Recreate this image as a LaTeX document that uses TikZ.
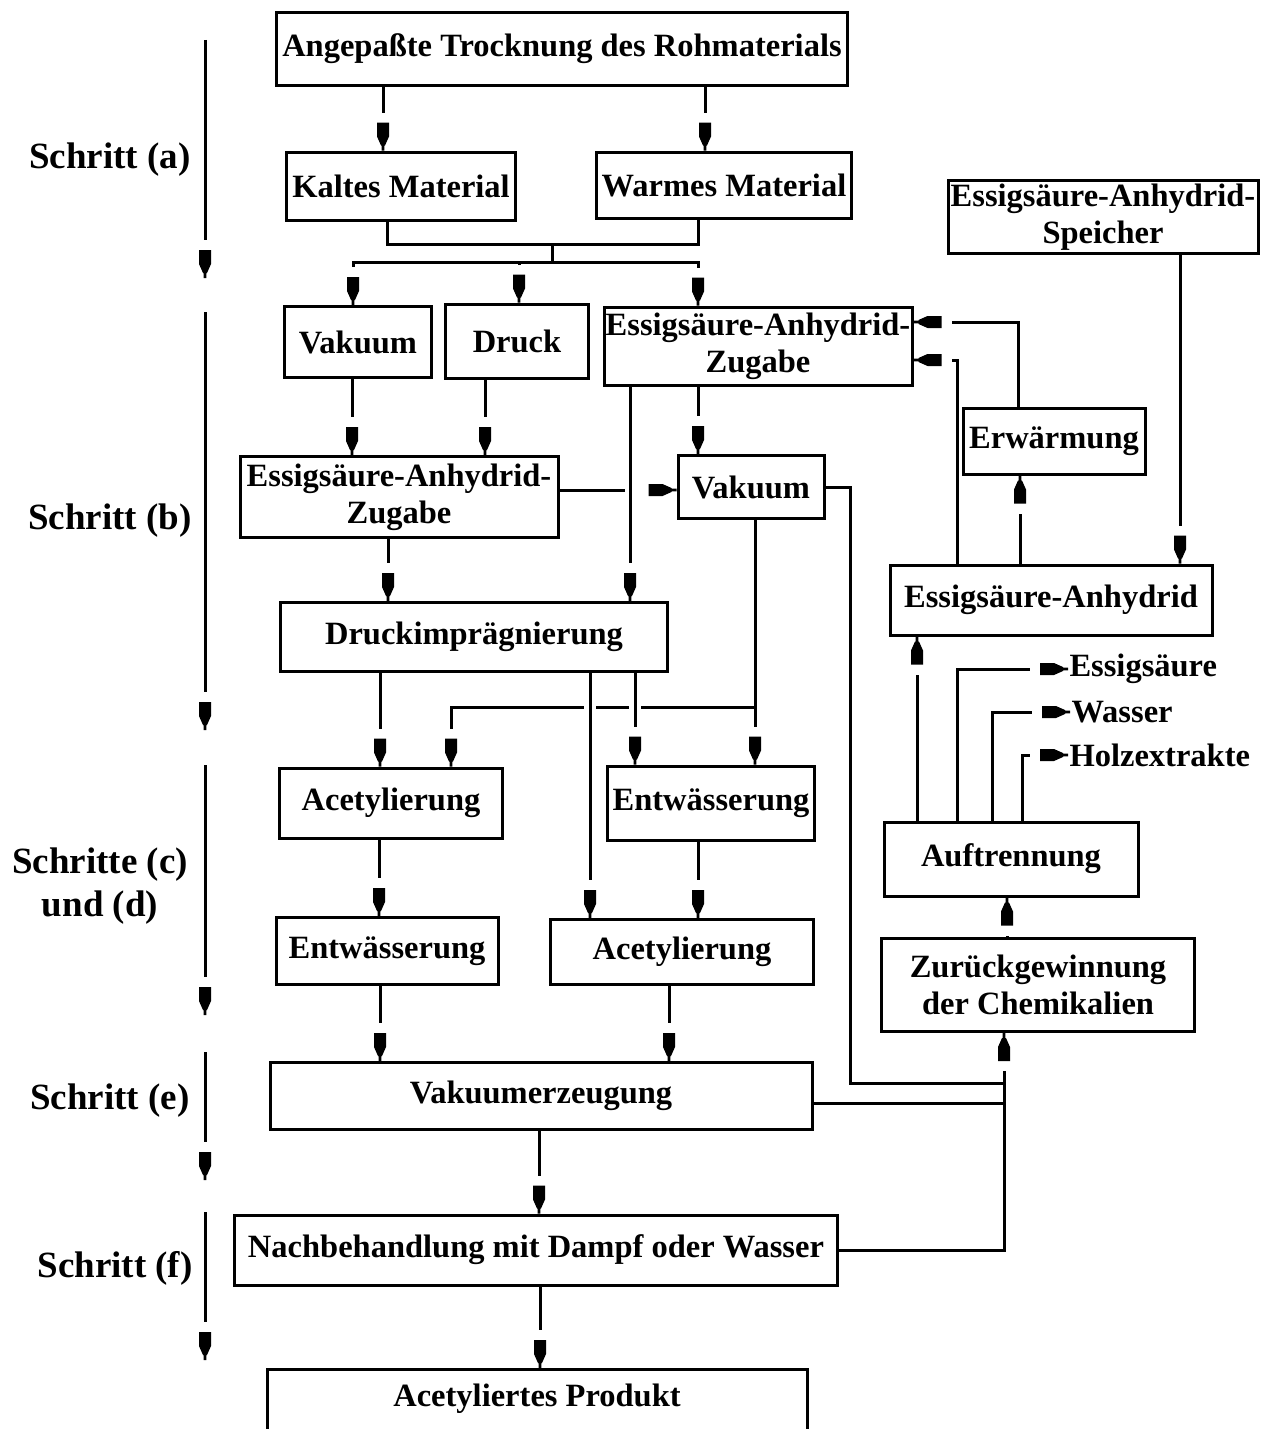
\documentclass[tikz,border=0pt]{standalone}
\usepackage{fontspec}
\setmainfont{Liberation Serif}
\usetikzlibrary{arrows.meta}

\pgfdeclarearrow{
  name=Pen,
  setup code={
    \pgfarrowssettipend{0pt}
    \pgfarrowssetbackend{-28pt}
    \pgfarrowssetlineend{-38pt}
  },
  drawing code={
    \pgfpathmoveto{\pgfpoint{-28pt}{6pt}}
    \pgfpathlineto{\pgfpoint{-14pt}{6pt}}
    \pgfpathlineto{\pgfpoint{-5pt}{2pt}}
    \pgfpathlineto{\pgfpoint{-5pt}{1.3pt}}
    \pgfpathlineto{\pgfpoint{0pt}{1.3pt}}
    \pgfpathlineto{\pgfpoint{0pt}{-1.3pt}}
    \pgfpathlineto{\pgfpoint{-5pt}{-1.3pt}}
    \pgfpathlineto{\pgfpoint{-5pt}{-2pt}}
    \pgfpathlineto{\pgfpoint{-14pt}{-6pt}}
    \pgfpathlineto{\pgfpoint{-28pt}{-6pt}}
    \pgfpathclose
    \pgfusepathqfill
  }
}
\pgfdeclarearrow{
  name=Pen long,
  setup code={
    \pgfarrowssettipend{0pt}
    \pgfarrowssetbackend{-28pt}
    \pgfarrowssetlineend{-52pt}
  },
  drawing code={
    \pgfpathmoveto{\pgfpoint{-28pt}{6pt}}
    \pgfpathlineto{\pgfpoint{-14pt}{6pt}}
    \pgfpathlineto{\pgfpoint{-5pt}{2pt}}
    \pgfpathlineto{\pgfpoint{-5pt}{1.3pt}}
    \pgfpathlineto{\pgfpoint{0pt}{1.3pt}}
    \pgfpathlineto{\pgfpoint{0pt}{-1.3pt}}
    \pgfpathlineto{\pgfpoint{-5pt}{-1.3pt}}
    \pgfpathlineto{\pgfpoint{-5pt}{-2pt}}
    \pgfpathlineto{\pgfpoint{-14pt}{-6pt}}
    \pgfpathlineto{\pgfpoint{-28pt}{-6pt}}
    \pgfpathclose
    \pgfusepathqfill
  }
}

\begin{document}
\begin{tikzpicture}[x=1pt,y=-1pt,line width=3pt,>=Pen,
    long gap/.style={-{Pen long}},
    main node/.style={draw,line width=3pt,inner sep=0pt,align=center,font=\fontsize{32.5}{37}\selectfont\bfseries},
    step node/.style={align=center,font=\fontsize{37}{43}\selectfont\bfseries},
    out node/.style={anchor=west,inner sep=0pt,font=\fontsize{32.5}{37}\selectfont\bfseries},
    hop/.style={preaction={draw,-,white,line width=12pt,shorten <=12pt,shorten >=40pt}}]

    \useasboundingbox (0,0) rectangle (1277,1429);

    \node[main node,minimum width=571,minimum height=73] (1) at (562,49) {Angepaßte Trocknung des Rohmaterials};
    \node[main node,minimum width=229,minimum height=68] (2) at (401,186) {Kaltes Material};
    \node[main node,minimum width=255,minimum height=66] (3) at (724,185) {Warmes Material};
    \node[main node,minimum width=147,minimum height=71] (4) at (358,342) {Vakuum};
    \node[main node,minimum width=143,minimum height=74] (5) at (517,341) {Druck};
    \node[main node,minimum width=308,minimum height=78] (6) at (758,346) {Essigsäure-Anhydrid-\\Zugabe};
    \node[main node,minimum width=318,minimum height=81] (7) at (399,497) {Essigsäure-Anhydrid-\\Zugabe};
    \node[main node,minimum width=146,minimum height=63] (8) at (751,487) {Vakuum};
    \node[main node,minimum width=182,minimum height=66] (9) at (1054,441) {Erwärmung};
    \node[main node,minimum width=310,minimum height=73] (10) at (1103,217) {Essigsäure-Anhydrid-\\Speicher};
    \node[main node,minimum width=322,minimum height=70] (11) at (1051,600) {Essigsäure-Anhydrid};
    \node[main node,minimum width=387,minimum height=69] (12) at (474,637) {Druckimprägnierung};
    \node[main node,minimum width=223,minimum height=70] (13) at (391,803) {Acetylierung};
    \node[main node,minimum width=207,minimum height=74] (14) at (711,803) {Entwässerung};
    \node[main node,minimum width=222,minimum height=67] (15) at (387,951) {Entwässerung};
    \node[main node,minimum width=263,minimum height=65] (16) at (682,952) {Acetylierung};
    \node[main node,minimum width=542,minimum height=67] (17) at (541,1096) {Vakuumerzeugung};
    \node[main node,minimum width=603,minimum height=70] (18) at (536,1250) {Nachbehandlung mit Dampf oder Wasser};
    \node[main node,minimum width=540,minimum height=80,anchor=north] (19) at (537,1368) {};
    \node[font=\fontsize{32.5}{37}\selectfont\bfseries] (19t) at (537,1399) {Acetyliertes Produkt};
    \node[main node,minimum width=254,minimum height=74] (20) at (1011,859) {Auftrennung};
    \node[main node,minimum width=313,minimum height=93] (21) at (1038,985) {Zurückgewinnung\\der Chemikalien};
    \node[out node] (22) at (1068,669) {Essigsäure};
    \node[out node] (23) at (1070,712) {Wasser};
    \node[out node] (24) at (1068,755) {Holzextrakte};

    \node[step node] (s1) at (110,160) {Schritt (a)};
    \node[step node] (s2) at (110,521) {Schritt (b)};
    \node[step node] (s3) at (100,886) {Schritte (c)\\und (d)};
    \node[step node] (s4) at (110,1101) {Schritt (e)};
    \node[step node] (s5) at (115,1268) {Schritt (f)};

    \coordinate (a1) at (205,40);   \coordinate (a2) at (205,278);
    \coordinate (b1) at (205,312);  \coordinate (b2) at (205,730);
    \coordinate (c1) at (205,765);  \coordinate (c2) at (205,1015);
    \coordinate (d1) at (205,1052); \coordinate (d2) at (205,1180);
    \coordinate (e1) at (205,1212); \coordinate (e2) at (205,1360);
    \coordinate (j1) at (552,244);  \coordinate (j2) at (552,262);
    \coordinate (j3) at (1004,1083); \coordinate (j4) at (1004,1103);
    \coordinate (j5) at (755,707);

    \draw[->] (a1) -- (a2);
    \draw[->] (b1) -- (b2);
    \draw[->] (c1) -- (c2);
    \draw[->] (d1) -- (d2);
    \draw[->] (e1) -- (e2);

    \draw[->] (1.south -| 383,0) -- (2.north -| 383,0);
    \draw[->] (1.south -| 705,0) -- (3.north -| 705,0);
    \draw (2.south -| 387,0) |- (j1) -| (3.south -| 698,0);
    \draw (j1) -- (j2);
    \draw[->] (j2) -| (4.north -| 353,0);
    \draw[->] (j2 -| 519,0) -- (5.north -| 519,0);
    \draw[->] (j2) -| (6.north -| 698,0);
    \draw[->] (4.south -| 352,0) -- (7.north -| 352,0);
    \draw[->] (5.south -| 485,0) -- (7.north -| 485,0);
    \draw[long gap] (7.east |- 0,490) -- (8.west |- 0,490);
    \draw[->] (6.south -| 698,0) -- (8.north -| 698,0);
    \draw[->] (6.south -| 630,0) -- (12.north -| 630,0);
    \draw[->] (7.south -| 388,0) -- (12.north -| 388,0);
    \draw (8.east) -| (j3 -| 850,0) -- (j3);
    \draw (17.east |- j4) -- (j4);
    \draw[->] (18.east) -| (21.south -| 1004,0);
    \draw[->] (21.north -| 1007,0) -- (20.south -| 1007,0);
    \draw[->] (20.north -| 917,0) -- (11.south -| 917,0);
    \draw[->] (20.north -| 957,0) |- (22.west);
    \draw[->] (20.north -| 992,0) |- (23.west);
    \draw[->] (20.north -| 1022,0) |- (24.west);
    \draw[->] (11.north -| 1020,0) -- (9.south -| 1020,0);
    \draw[->] (9.north -| 1018,0) |- (6.east |- 0,322);
    \draw[->] (11.north -| 957,0) |- (6.east |- 0,360);
    \draw[->] (10.south -| 1180,0) -- (11.north -| 1180,0);
    \draw[->] (12.south -| 380,0) -- (13.north -| 380,0);
    \draw[->] (8.south -| j5) -- (j5) -| (13.north -| 451,0);
    \draw[->] (j5) -- (14.north -| j5);
    \draw[->,hop] (12.south -| 590,0) -- (16.north -| 590,0);
    \draw[->,hop] (12.south -| 635,0) -- (14.north -| 635,0);
    \draw[->] (13.south -| 379,0) -- (15.north -| 379,0);
    \draw[->] (14.south -| 698,0) -- (16.north -| 698,0);
    \draw[->] (15.south -| 380,0) -- (17.north -| 380,0);
    \draw[->] (16.south -| 669,0) -- (17.north -| 669,0);
    \draw[->] (17.south -| 539,0) -- (18.north -| 539,0);
    \draw[->] (18.south -| 540,0) -- (19.north -| 540,0);
\end{tikzpicture}
\end{document}
